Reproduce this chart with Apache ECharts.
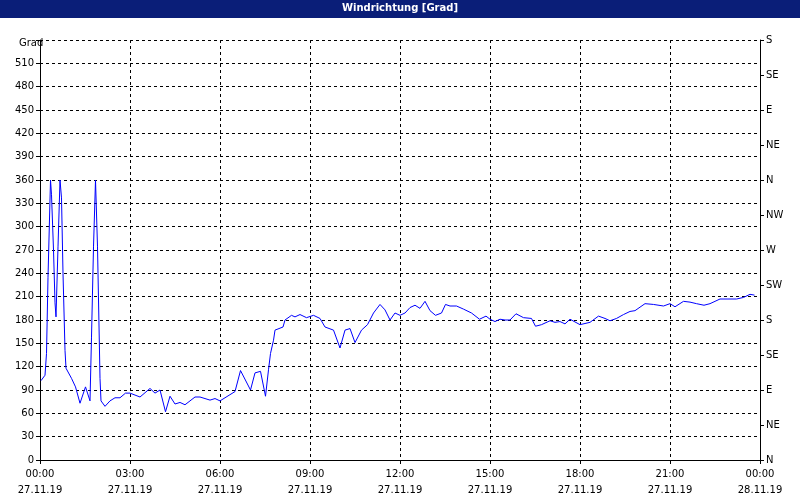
<!DOCTYPE html>
<html lang="de">
<head>
    <meta charset="UTF-8">
    <title>Windrichtung</title>
    <script src="https://cdn.jsdelivr.net/npm/echarts@6/dist/echarts.min.js"></script>
    <style>
        html, body { margin: 0; padding: 0; background: #fff; }
        #chart { width: 800px; height: 500px; }
    </style>
</head>
<body>
<div id="chart"></div>
<script>
    // Minuten seit 00:00 am 27.11.19
    const minutes = [2, 10, 13, 16, 21, 23, 27, 30, 32, 36, 40, 43, 46, 50, 52, 63, 71, 80, 91, 100,
        103, 107, 111, 115, 120, 122, 130, 140, 150, 160, 171, 180, 200, 220, 230, 240, 251, 260, 270, 280,
        290, 310, 320, 340, 350, 360, 390, 401, 421, 430, 441, 451, 457, 461, 467, 470, 486, 490, 503, 510,
        520, 533, 547, 560, 570, 587, 600, 610, 620, 630, 643, 655, 667, 680, 690, 700, 710, 720, 730, 740,
        750, 760, 770, 780, 791, 803, 811, 820, 833, 847, 863, 879, 892, 900, 910, 920, 930, 940, 952, 967,
        983, 991, 1003, 1020, 1030, 1040, 1050, 1060, 1080, 1100, 1117, 1130, 1140, 1153, 1167, 1180, 1190, 1210, 1227, 1247,
        1260, 1270, 1287, 1300, 1313, 1328, 1340, 1360, 1393, 1407, 1420, 1429];
    const degrees = [102, 109, 137, 235, 360, 341, 270, 202, 184, 274, 360, 337, 240, 141, 118, 105, 94, 73, 94, 76,
        158, 274, 360, 274, 105, 76, 69, 76, 80, 80, 86, 86, 81, 92, 86, 90, 62, 82, 72, 74,
        71, 81, 81, 77, 79, 76, 88, 115, 90, 112, 114, 82, 116, 137, 154, 167, 171, 180, 186, 184,
        187, 183, 186, 182, 171, 167, 144, 167, 169, 151, 167, 174, 189, 200, 193, 180, 189, 186, 189, 196,
        199, 195, 204, 192, 186, 189, 200, 198, 198, 194, 189, 181, 185, 181, 178, 181, 180, 180, 188, 183,
        182, 172, 174, 179, 177, 178, 175, 181, 174, 177, 185, 182, 179, 182, 187, 191, 192, 201, 200, 198,
        201, 197, 204, 203, 201, 199, 201, 207, 207, 209, 213, 212];
    const timeLabels = ['00:00', '03:00', '06:00', '09:00', '12:00', '15:00', '18:00', '21:00', '00:00'];
    const dateLabels = ['27.11.19', '27.11.19', '27.11.19', '27.11.19', '27.11.19', '27.11.19', '27.11.19', '27.11.19', '28.11.19'];
    const compass = ['N', 'NE', 'E', 'SE', 'S', 'SW', 'W', 'NW', 'N', 'NE', 'E', 'SE', 'S'];

    const dashed = {show: true, lineStyle: {color: '#000', type: [3, 3], width: 1}};

    let chart = echarts.init(document.getElementById('chart'));
    chart.setOption({
        animation: false,
        backgroundColor: '#fff',
        textStyle: {fontFamily: 'DejaVu Sans'},
        graphic: [
            {type: 'rect', left: 0, top: 0, shape: {width: 800, height: 18}, style: {fill: '#0a1e78'}},
            {type: 'text', left: 'center', top: 3, style: {text: 'Windrichtung [Grad]', fill: '#fff', font: 'bold 10px DejaVu Sans'}},
            {type: 'text', left: 19, top: 38, style: {text: 'Grad', fill: '#000', font: '10px DejaVu Sans'}}
        ],
        grid: {left: 40, right: 40, top: 40, bottom: 40},
        xAxis: {
            type: 'value', min: 0, max: 1440, interval: 180,
            axisLine: {show: true, lineStyle: {color: '#000'}},
            axisTick: {show: true, length: 4, lineStyle: {color: '#000'}},
            axisLabel: {
                color: '#000', fontSize: 10, lineHeight: 16, margin: 6,
                formatter: v => timeLabels[v / 180] + '\n' + dateLabels[v / 180]
            },
            splitLine: dashed
        },
        yAxis: [
            {
                type: 'value', min: 0, max: 540, interval: 30,
                axisLine: {show: true, lineStyle: {color: '#000'}},
                axisTick: {show: true, length: 4, lineStyle: {color: '#000'}},
                axisLabel: {color: '#000', fontSize: 10, margin: 6, formatter: v => v === 540 ? '' : v},
                splitLine: dashed
            },
            {
                type: 'value', min: 0, max: 540, interval: 45, position: 'right',
                axisLine: {show: true, lineStyle: {color: '#000'}},
                axisTick: {show: true, length: 4, lineStyle: {color: '#000'}},
                axisLabel: {color: '#000', fontSize: 10, margin: 6, formatter: v => compass[v / 45]},
                splitLine: {show: false}
            }
        ],
        series: [{
            type: 'line',
            data: minutes.map((m, i) => [m, degrees[i]]),
            showSymbol: false,
            lineStyle: {color: '#0000ff', width: 1},
            itemStyle: {color: '#0000ff'}
        }]
    });
</script>
</body>
</html>
